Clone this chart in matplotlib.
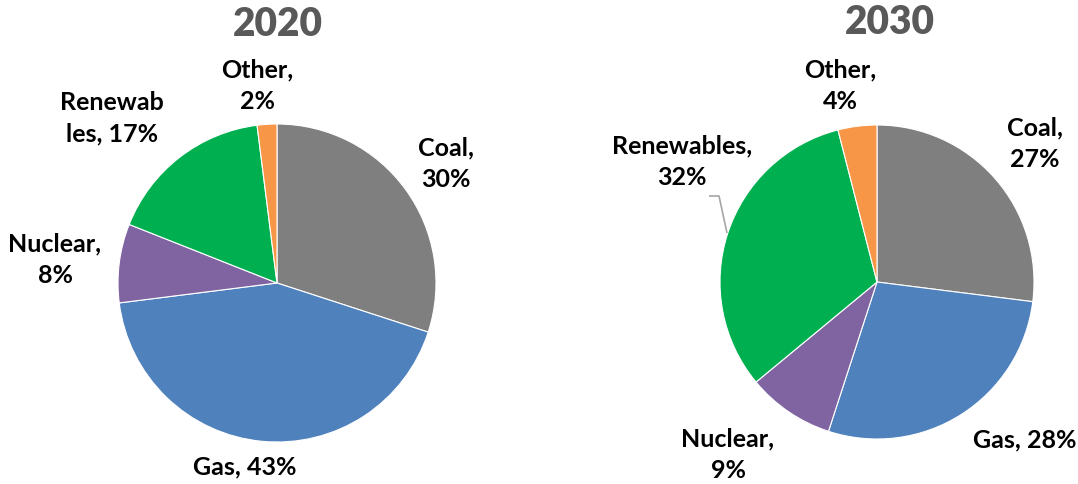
import matplotlib.pyplot as plt

# Power generation mix, shares in percent
sources = ['Coal', 'Gas', 'Nuclear', 'Renewables', 'Other']
share_2020 = [30, 43, 8, 17, 2]
share_2030 = [27, 28, 9, 32, 4]
colors = ['#7f7f7f', '#4f81bd', '#8064a2', '#00b050', '#f79646']

W, H = 1078, 485
FONT = ['Lato', 'DejaVu Sans']

fig = plt.figure(figsize=(W / 100, H / 100), dpi=100)
ax = fig.add_axes([0, 0, 1, 1])


def py(y):
    # pixel row (from top) -> axis y
    return H - y


def draw_pie(values, cx, cy, r):
    ax.pie(values, colors=colors, startangle=90, counterclock=False,
           center=(cx, py(cy)), radius=r, frame=True,
           wedgeprops=dict(edgecolor='white', linewidth=0.8))


draw_pie(share_2020, 277, 284, 159)
draw_pie(share_2030, 877, 283, 157)
ax.set_xlim(0, W)
ax.set_ylim(0, H)
ax.set_aspect('equal')
ax.axis('off')

title_kw = dict(fontsize=28, fontweight='heavy', color='#595959',
                ha='center', va='center', family=FONT)
ax.text(278, py(25), '2020', **title_kw)
ax.text(890, py(22), '2030', **title_kw)

lab_kw = dict(fontsize=18, fontweight='bold', color='black',
              ha='center', va='center', family=FONT, linespacing=1.45)

# label text and position per slice
labels_2020 = [
    (f'{sources[0]},\n{share_2020[0]}%', 446, 164),
    (f'{sources[1]}, {share_2020[1]}%', 245, 467),
    (f'{sources[2]},\n{share_2020[2]}%', 55, 260),
    (f'Renewab\nles, {share_2020[3]}%', 112, 118),
    (f'{sources[4]},\n{share_2020[4]}%', 257, 86),
]
labels_2030 = [
    (f'{sources[0]},\n{share_2030[0]}%', 1035, 144),
    (f'{sources[1]}, {share_2030[1]}%', 1025, 440),
    (f'{sources[2]},\n{share_2030[2]}%', 728, 455),
    (f'{sources[3]},\n{share_2030[3]}%', 682, 162),
    (f'{sources[4]},\n{share_2030[4]}%', 840, 86),
]
for txt, x, y in labels_2020 + labels_2030:
    ax.text(x, py(y), txt, **lab_kw)

# leader line for the 2030 renewables label
ax.plot([709, 719, 727], [py(197), py(197), py(234)],
        color='#a6a6a6', linewidth=1.2, solid_capstyle='butt')

fig.savefig('out.png', dpi=100)
